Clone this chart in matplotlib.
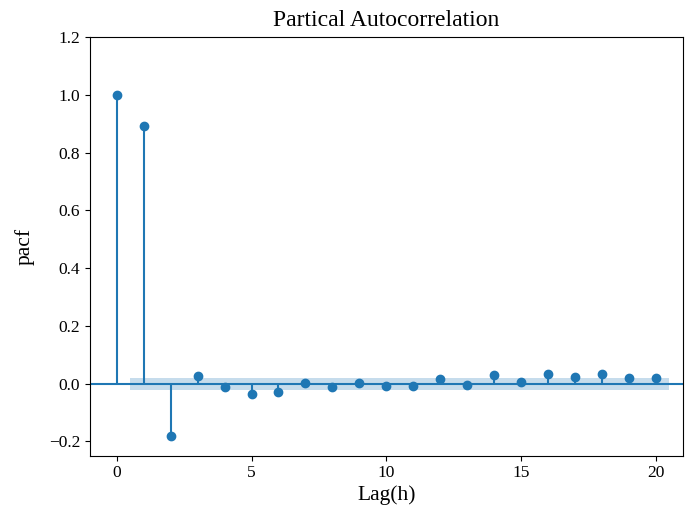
import matplotlib
matplotlib.use("Agg")
import matplotlib.pyplot as plt
import numpy as np

plt.rcParams["font.family"] = ["Liberation Serif", "DejaVu Serif"]
plt.rcParams["mathtext.fontset"] = "stix"

lags = np.arange(21)
pacf = [1.0, 0.893, -0.18, 0.026, -0.012, -0.036, -0.028, 0.002, -0.012, 0.002,
        -0.008, -0.009, 0.015, -0.004, 0.03, 0.006, 0.034, 0.022, 0.034, 0.019, 0.019]
conf = 0.021  # half-width of 95% band

fig, ax = plt.subplots(figsize=(6.85, 5.15), dpi=100)
fig.subplots_adjust(left=0.131, right=0.997, top=0.928, bottom=0.115)

color = "#1f77b4"
ax.axhline(0, color=color, lw=1.5, zorder=1)
ax.vlines(lags, 0, pacf, color=color, lw=1.5)
ax.plot(lags, pacf, "o", color=color, markersize=6)

band_x = lags[1:].astype(float)
band_x[0] -= 0.5
band_x[-1] += 0.5
ax.fill_between(band_x, -conf, conf, color=color, alpha=0.25, lw=0)

ax.set_xlim(-1, 21)
ax.set_ylim(-0.25, 1.2)
ax.set_xticks([0, 5, 10, 15, 20])
ax.set_yticks(np.arange(-0.2, 1.21, 0.2))
ax.tick_params(labelsize=12.5)
ax.set_title("Partical Autocorrelation", fontsize=17, pad=8)
ax.set_xlabel("Lag(h)", fontsize=15.5, labelpad=3)
ax.set_ylabel("pacf", fontsize=15.5, labelpad=10)

fig.savefig("out.png")
